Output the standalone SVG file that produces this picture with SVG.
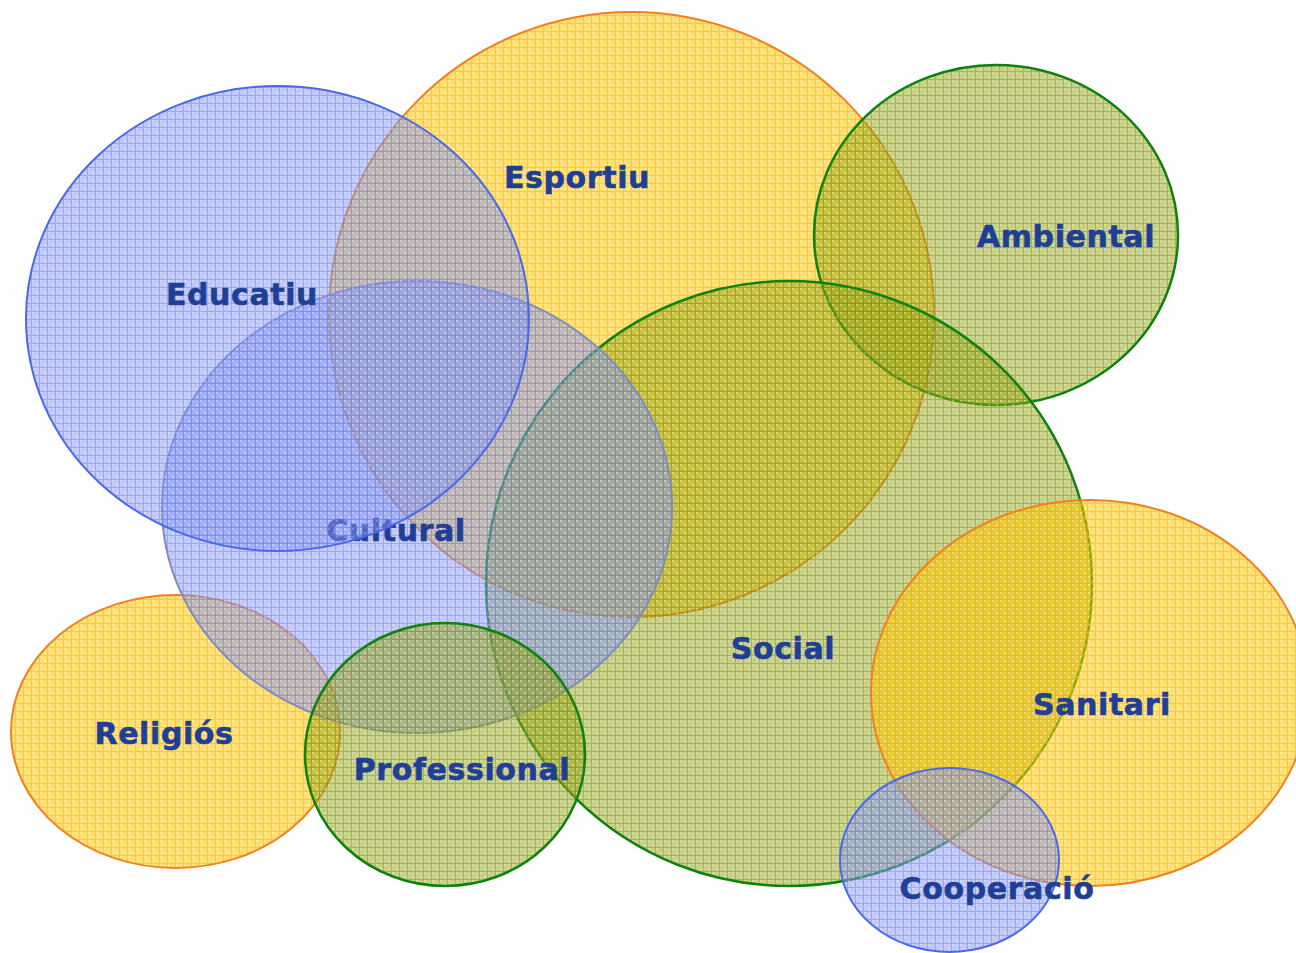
<svg xmlns="http://www.w3.org/2000/svg" width="1296" height="953" viewBox="0 0 1296 953">
<defs>
<pattern id="pb" width="8" height="8" patternUnits="userSpaceOnUse">
<rect width="8" height="8" fill="#8494F2" fill-opacity="0.5"/>
<rect x="0" y="0" width="2" height="2" fill="#ffffff" fill-opacity="0.25"/>
<rect x="4" y="4" width="2" height="2" fill="#ffffff" fill-opacity="0.25"/>
<rect x="7" y="0" width="1" height="8" fill="#6478E8" fill-opacity="0.4"/>
<rect x="0" y="7" width="7" height="1" fill="#6478E8" fill-opacity="0.4"/>
</pattern>
<pattern id="py" width="8" height="8" patternUnits="userSpaceOnUse">
<rect width="8" height="8" fill="#FFC400" fill-opacity="0.55"/>
<rect x="0" y="0" width="2" height="2" fill="#ffffff" fill-opacity="0.3"/>
<rect x="4" y="4" width="2" height="2" fill="#ffffff" fill-opacity="0.3"/>
<rect x="7" y="0" width="1" height="8" fill="#F5B800" fill-opacity="0.5"/>
<rect x="0" y="7" width="7" height="1" fill="#F5B800" fill-opacity="0.5"/>
</pattern>
<pattern id="pg" width="8" height="8" patternUnits="userSpaceOnUse">
<rect width="8" height="8" fill="#92A214" fill-opacity="0.5"/>
<rect x="0" y="0" width="2" height="2" fill="#ffffff" fill-opacity="0.25"/>
<rect x="4" y="4" width="2" height="2" fill="#ffffff" fill-opacity="0.25"/>
<rect x="7" y="0" width="1" height="8" fill="#7A8A00" fill-opacity="0.4"/>
<rect x="0" y="7" width="7" height="1" fill="#7A8A00" fill-opacity="0.4"/>
</pattern>
</defs>
<style>
.b{fill:url(#pb);stroke:#4A68EE;stroke-width:2}
.y{fill:url(#py);stroke:#F08022;stroke-width:2}
.g{fill:url(#pg);stroke:#0E820E;stroke-width:2.5}
.t{font-family:"DejaVu Sans",Verdana,sans-serif;font-weight:bold;font-size:30px;fill:#1F3F97;stroke:#1F3F97;stroke-width:0.6px;text-anchor:middle;letter-spacing:0.6px}
</style>
<rect width="1296" height="953" fill="#ffffff"/>
<g id="esportiu"><ellipse class="y" cx="631.5" cy="314.5" rx="302.5" ry="302.5"/></g>
<g id="ambiental"><ellipse class="g" cx="996" cy="235" rx="182" ry="170"/></g>
<g id="social"><ellipse class="g" cx="789" cy="583.5" rx="303" ry="302.5"/></g>
<g id="sanitari"><ellipse class="y" cx="1090" cy="693" rx="219" ry="193"/></g>
<g id="cooperacio"><ellipse class="b" cx="949.5" cy="860" rx="109.5" ry="92"/></g>
<g id="religios"><ellipse class="y" cx="175.5" cy="731.5" rx="164.5" ry="136.5"/></g>
<g id="cultural"><ellipse class="b" style="stroke:#7E8CC0" cx="417" cy="507" rx="255" ry="226"/><text class="t" x="396" y="541">Cultural</text></g>
<g id="professional"><ellipse class="g" cx="445" cy="754.5" rx="140" ry="131.5"/></g>
<g id="educatiu"><ellipse class="b" cx="277.5" cy="318.5" rx="251.5" ry="232.5"/></g>
<g id="labels">
<text class="t" x="577" y="188">Esportiu</text>
<text class="t" x="242" y="305">Educatiu</text>
<text class="t" x="1066" y="247">Ambiental</text>
<text class="t" x="783" y="659">Social</text>
<text class="t" x="1102" y="715">Sanitari</text>
<text class="t" x="164" y="744">Religiós</text>
<text class="t" x="462" y="780">Professional</text>
<text class="t" x="997" y="899">Cooperació</text>
</g>
<g id="connectors"/>
</svg>
